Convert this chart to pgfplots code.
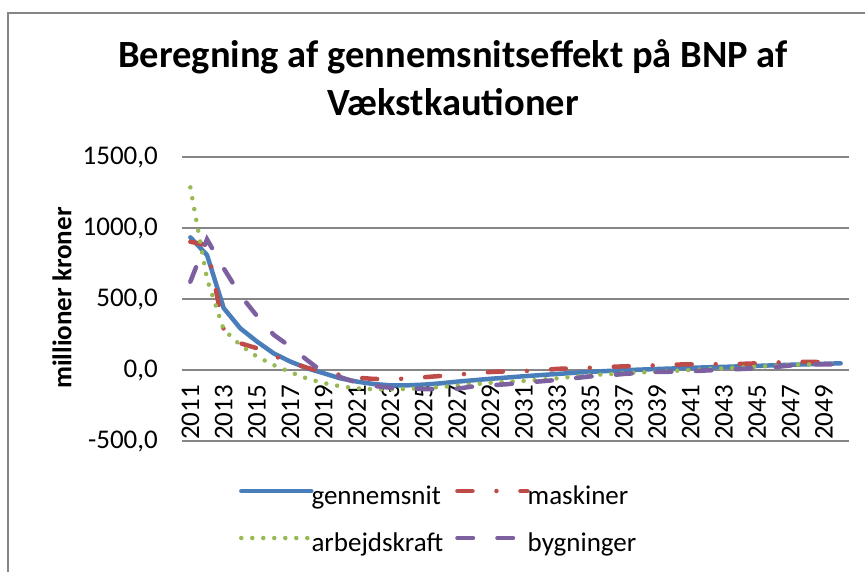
\documentclass[border=0pt]{standalone}
\usepackage{pgfplots}
\pgfplotsset{compat=1.18}
\usepackage{pgfplotstable}
\usepackage{fontspec}
\setmainfont{Carlito}
\definecolor{cblue}{HTML}{4A7EBB}
\definecolor{cred}{HTML}{BE4B48}
\definecolor{cgreen}{HTML}{98B954}
\definecolor{cpurple}{HTML}{7D60A0}
\definecolor{gridgray}{RGB}{134,134,134}
\pgfplotstableread{
year g m a b
2011 934 903 1286 622
2012 810 880 640 920
2013 436 285 285 716
2014 293 188 175 527
2015 200 153 94 380
2016 117 100 35 248
2017 59 55 -15 164
2018 12 16 -60 70
2019 -23 -13 -92 -20
2020 -59 -35 -115 -50
2021 -82 -54 -129 -89
2022 -99 -63 -136 -112
2023 -108 -65 -136 -125
2024 -108 -60 -133 -131
2025 -103 -51 -128 -134
2026 -94 -42 -120 -136
2027 -82 -32 -110 -132
2028 -72 -24 -100 -115
2029 -62 -14 -90 -108
2030 -53 -10 -83 -100
2031 -44 -7 -77 -88
2032 -36 -3 -68 -80
2033 -28 8 -59 -70
2034 -20 13 -47 -58
2035 -13 16 -36 -45
2036 -7 21 -29 -38
2037 -2 26 -23 -28
2038 3 29 -17 -20
2039 7 33 -12 -13
2040 11 38 -6 -12
2041 15 40 0 -9
2042 19 40 6 -3
2043 22 41 12 2
2044 26 43 18 7
2045 29 47 23 12
2046 33 52 29 20
2047 37 57 35 32
2048 40 58 39 38
2049 44 55 42 40
2050 47 55 46 40
}\data
\begin{document}
\begin{tikzpicture}[x=1pt,y=1pt]
\useasboundingbox (0,0) rectangle (865,571);
\fill[white] (0,0) rectangle (865,571);
\draw[gridgray, line width=1.3pt] (8,-20) -- (8,558) -- (900,558);
\node[font=\fontsize{38.5}{46}\selectfont\bfseries] at (453,514) {Beregning af gennemsnitseffekt på BNP af};
\node[font=\fontsize{38.5}{46}\selectfont\bfseries] at (453,469) {Vækstkautioner};
\node[rotate=90, font=\fontsize{27}{32}\selectfont\bfseries] at (62,273) {millioner kroner};
\begin{axis}[
  at={(182pt,130pt)}, anchor=south west, scale only axis,
  width=667pt, height=284pt,
  xmin=2010.5, xmax=2050.5, ymin=-500, ymax=1500,
  axis line style={draw=none}, tick style={draw=none},
  ymajorgrids, grid style={draw=gridgray, line width=1.3pt},
  ytick={-500,0,500,1000,1500},
  xtick={2011,2013,...,2049},
  no marks,
  /pgf/number format/assume math mode=true,
  ticklabel style={font=\fontsize{27}{32}\selectfont},
  yticklabel style={/pgf/number format/.cd, fixed, fixed zerofill, precision=1, use comma, 1000 sep={}, /tikz/.cd, anchor=east, inner sep=0pt, xshift=-24pt},
  xticklabel style={/pgf/number format/1000 sep={}, rotate=90, anchor=west, inner sep=1pt},
  legend style={at={(axis description cs:0.0855,-0.155)}, anchor=north west, draw=none, fill=none, inner sep=0pt, outer sep=0pt,
    font=\fontsize{27}{32}\selectfont, row sep=22pt,
    nodes={inner sep=0pt, text height=19pt, text depth=6pt},
    /tikz/every odd column/.append style={column sep=-2pt},
    /tikz/every even column/.append style={column sep=12pt}},
  legend columns=2,
  legend cell align=left,
  legend image code/.code={\draw[#1] (0pt,6.5pt) -- (70pt,6.5pt);},
]
\addplot[cblue, line width=4.5pt, line cap=round, line join=round] table[x=year,y=g]{\data};
\addlegendentry{gennemsnit}
\addplot[cred, line width=4.5pt, line cap=round, dash pattern=on 15pt off 24pt on 0pt off 24pt] table[x=year,y=m]{\data};
\addlegendentry{maskiner}
\addplot[cgreen, line width=4.5pt, line cap=round, dash pattern=on 0pt off 11pt] table[x=year,y=a]{\data};
\addlegendentry{arbejdskraft}
\addplot[cpurple, line width=4.5pt, line cap=round, dash pattern=on 15.5pt off 24.5pt] table[x=year,y=b]{\data};
\addlegendentry{bygninger}
\end{axis}
\end{tikzpicture}
\end{document}
